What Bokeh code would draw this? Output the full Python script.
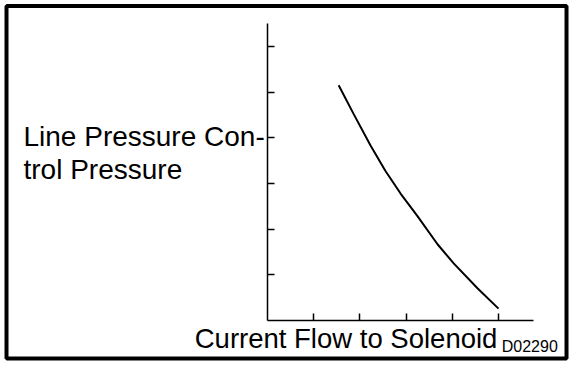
from bokeh.plotting import figure
from bokeh.models import Range1d, FixedTicker, Label, BoxAnnotation, LinearAxis
from bokeh.embed import file_html
from bokeh.resources import INLINE

# ---- data ----
current = [1.54, 1.86, 2.23, 2.55, 2.88, 3.25, 3.68, 4.03, 4.55, 5.00]
pressure = [5.15, 4.53, 3.83, 3.28, 2.78, 2.28, 1.67, 1.25, 0.70, 0.26]
x_ticks = [1, 2, 3, 4, 5]
y_ticks = [1, 2, 3, 4, 5, 6]
x_axis_end = 5.758
y_axis_end = 6.503
y_label_lines = ["Line Pressure Con-", "trol Pressure"]
x_label = "Current Flow to Solenoid"
fig_id = "D02290"

FONT = "Liberation Sans"

p = figure(width=576, height=368, output_backend="svg", toolbar_location=None,
           x_range=Range1d(-5.779, 6.688), y_range=Range1d(-1.051, 7.007),
           x_axis_location=None, y_axis_location=None,
           min_border=0)
p.outline_line_color = None
p.grid.grid_line_color = None
p.background_fill_color = "white"
p.border_fill_color = "white"

xax = LinearAxis(fixed_location=0, bounds=(0, x_axis_end))
yax = LinearAxis(fixed_location=0, bounds=(0, y_axis_end))
for ax, ticks in ((xax, x_ticks), (yax, y_ticks)):
    ax.ticker = FixedTicker(ticks=ticks)
    ax.major_tick_in = 7
    ax.major_tick_out = 0
    ax.minor_tick_line_color = None
    ax.axis_line_color = "black"
    ax.axis_line_width = 1.5
    ax.major_tick_line_color = "black"
    ax.major_tick_line_width = 1.5
    ax.major_label_overrides = {t: "" for t in ticks}
p.add_layout(xax, "below")
p.add_layout(yax, "left")

p.line(current, pressure, line_color="black", line_width=2)

lab = dict(text_font=FONT, text_color="black",
           text_baseline="alphabetic", text_align="left")
p.add_layout(Label(x=-5.281, y=4.02, text=y_label_lines[0], text_font_size="28px", **lab))
p.add_layout(Label(x=-5.281, y=3.30, text=y_label_lines[1], text_font_size="28px", **lab))
p.add_layout(Label(x=-1.575, y=-0.385, text=x_label, text_font_size="27.5px", **lab))
p.add_layout(Label(x=5.07, y=-0.58, text=fig_id, text_font_size="16px", **lab))

# outer frame
p.add_layout(BoxAnnotation(left=-5.649, right=6.472, top=6.886, bottom=-0.832,
                           fill_color=None, line_color="black", line_width=4,
                           line_alpha=1))

open("out.html", "w").write(file_html(p, INLINE))
